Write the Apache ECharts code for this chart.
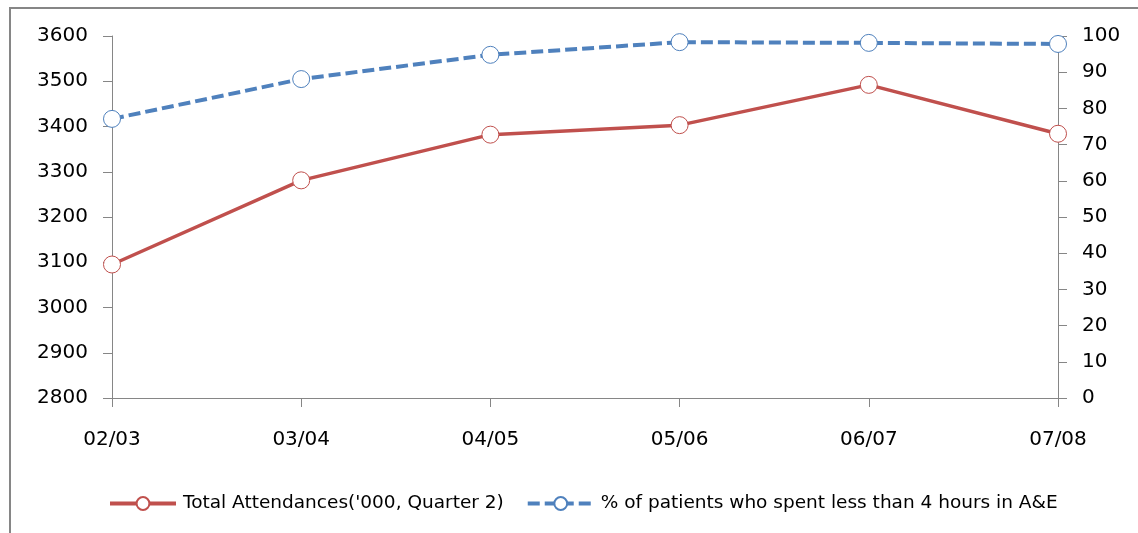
<!DOCTYPE html>
<html><head><meta charset="utf-8">
<script src="https://cdn.jsdelivr.net/npm/echarts@6/dist/echarts.min.js"></script>
<style>html,body{margin:0;padding:0;background:#fff}#c{width:1138px;height:533px}</style>
</head><body><div id="c"></div>
<script>
const categories = ['02/03','03/04','04/05','05/06','06/07','07/08'];
const attendances = [3095, 3281, 3382, 3403, 3492, 3384];
const pctUnder4h = [77.1, 88.1, 94.8, 98.3, 98.1, 97.8];
const seriesNames = ["Total Attendances('000, Quarter 2)", '% of patients who spent less than 4 hours in A&E'];

const axisGrey = '#868686';
const chart = echarts.init(document.getElementById('c'));
chart.setOption({
  animation: false,
  backgroundColor: '#fff',
  graphic: [{
    type: 'polyline', shape: {points: [[10, 600], [10, 8], [1300, 8]]},
    style: {fill: 'none', stroke: axisGrey, lineWidth: 2}, silent: true, z: -1
  }],
  grid: {left: 112, right: 80, top: 36, bottom: 135},
  legend: {
    left: 103, top: 489, itemWidth: 66, itemHeight: 16, itemGap: 22,
    lineStyle: {width: 4},
    textStyle: {fontFamily: 'DejaVu Sans', fontSize: 18.5, color: '#000', padding: [0,0,0,2]},
    data: seriesNames
  },
  xAxis: {
    type: 'category', data: categories, boundaryGap: false,
    axisLine: {lineStyle: {color: axisGrey, width: 1}},
    axisTick: {show: true, length: 9, alignWithLabel: true, lineStyle: {color: axisGrey}},
    axisLabel: {fontFamily: 'DejaVu Sans', fontSize: 20, color: '#000', margin: 32}
  },
  yAxis: [{
    type: 'value', min: 2800, max: 3600, interval: 100, position: 'left',
    axisLine: {show: true, lineStyle: {color: axisGrey, width: 1}},
    axisTick: {show: true, length: 9, lineStyle: {color: axisGrey}},
    splitLine: {show: false},
    axisLabel: {fontFamily: 'DejaVu Sans', fontSize: 20, color: '#000', margin: 24, formatter: v => String(v)}
  }, {
    type: 'value', min: 0, max: 100, interval: 10, position: 'right',
    axisLine: {show: true, lineStyle: {color: axisGrey, width: 1}},
    axisTick: {show: true, length: 9, lineStyle: {color: axisGrey}},
    splitLine: {show: false},
    axisLabel: {fontFamily: 'DejaVu Sans', fontSize: 20, color: '#000', margin: 24, formatter: v => String(v)}
  }],
  series: [{
    name: seriesNames[0], type: 'line', yAxisIndex: 0, data: attendances,
    symbol: 'circle', symbolSize: 17, showAllSymbol: true,
    lineStyle: {color: '#C0504D', width: 3.5},
    itemStyle: {color: '#fff', borderColor: '#C0504D', borderWidth: 1},
    z: 3
  }, {
    name: seriesNames[1], type: 'line', yAxisIndex: 1, data: pctUnder4h,
    symbol: 'circle', symbolSize: 17, showAllSymbol: true,
    lineStyle: {color: '#4F81BD', width: 4, type: [12, 5]},
    itemStyle: {color: '#fff', borderColor: '#4F81BD', borderWidth: 1},
    z: 2
  }]
});
</script></body></html>
